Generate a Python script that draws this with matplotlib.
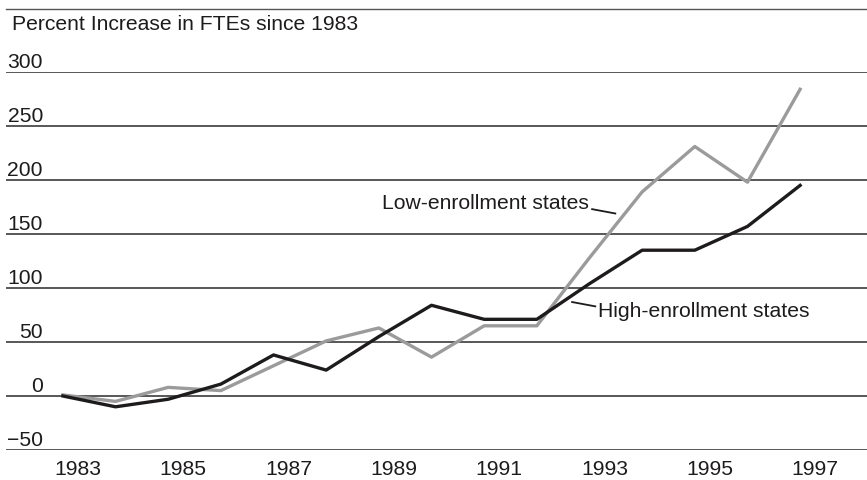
import matplotlib.pyplot as plt
import matplotlib.transforms as mtransforms
from matplotlib.lines import Line2D

plt.rcParams['font.family'] = ['Liberation Sans', 'DejaVu Sans']

years = list(range(1983, 1998))
high_enrollment = [0, -10, -3, 11, 38, 24, 55, 84, 71, 71, 104, 135, 135, 157, 195]
low_enrollment = [1, -5, 8, 5, 28, 51, 63, 36, 65, 65, 128, 189, 231, 198, 284]
y_ticks = [-50, 0, 50, 100, 150, 200, 250, 300]
y_labels = ['\u221250', '0', '50', '100', '150', '200', '250', '300']
x_ticks = list(range(1983, 1998, 2))

FS = 15.2

fig = plt.figure(figsize=(8.67, 4.8), dpi=100)
ax = fig.add_axes([6 / 867, 30 / 480, 861 / 867, 378 / 480])

for s in ax.spines.values():
    s.set_visible(False)

for yv in y_ticks:
    ax.axhline(yv, color='#2a2a2a', lw=1.1, zorder=1)

ax.plot(years, high_enrollment, color='#1e1b1c', lw=2.4, zorder=3)
ax.plot(years, low_enrollment, color='#9b9b9b', lw=2.4, zorder=2)

ax.set_xlim(1981.92, 1998.27)
ax.set_ylim(-50, 300)
ax.set_yticks([])
ax.set_xticks(x_ticks)
ax.set_xticklabels([str(y) for y in x_ticks], fontsize=FS, color='#1e1b1c')
ax.tick_params(axis='x', length=0, pad=7)
offset = mtransforms.ScaledTranslation(15 / 100, 0, fig.dpi_scale_trans)
for lbl in ax.get_xticklabels():
    lbl.set_transform(lbl.get_transform() + offset)

# y labels sit above the gridlines, right aligned
trans = mtransforms.blended_transform_factory(ax.transAxes, ax.transData)
up = mtransforms.ScaledTranslation(0, 0.5 / 100, fig.dpi_scale_trans)
for yv, txt in zip(y_ticks, y_labels):
    ax.text(37 / 861, yv, txt, transform=trans + up, ha='right', va='bottom',
            fontsize=FS, color='#1e1b1c')

# annotations
ax.text(1992.98, 178, 'Low-enrollment states', ha='right', va='center',
        fontsize=FS, color='#1e1b1c')
ax.plot([1993.05, 1993.49], [173, 169], color='#1e1b1c', lw=1.3)
ax.text(1993.16, 78, 'High-enrollment states', ha='left', va='center',
        fontsize=FS, color='#1e1b1c')
ax.plot([1992.67, 1993.11], [87, 83], color='#1e1b1c', lw=1.3)

fig.text(12 / 867, 455 / 480, 'Percent Increase in FTEs since 1983',
         ha='left', va='center', fontsize=FS, color='#1e1b1c')
fig.add_artist(Line2D([6 / 867, 1], [471 / 480, 471 / 480], color='#555555', lw=1.0))

fig.savefig('out.png', dpi=100)
